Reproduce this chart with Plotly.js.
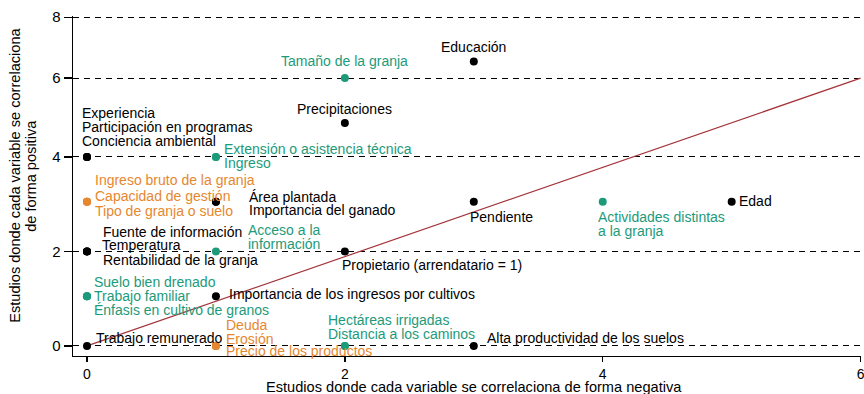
<!DOCTYPE html>
<html>
<head>
<meta charset="utf-8">
<script src="https://cdn.plot.ly/plotly-3.0.1.min.js"></script>
<style>
  html, body { margin: 0; padding: 0; background: #fff; }
  #chart { width: 864px; height: 394px; }
</style>
</head>
<body>
<div id="chart"></div>
<script>
// variables, with the number of studies where each one correlates
// negatively (x) and positively (y)
const varNames = [
  'Experiencia', 'Participación en programas', 'Conciencia ambiental',
  'Extensión o asistencia técnica', 'Ingreso',
  'Tamaño de la granja', 'Educación', 'Precipitaciones',
  'Ingreso bruto de la granja', 'Capacidad de gestión', 'Tipo de granja o suelo',
  'Área plantada', 'Importancia del ganado',
  'Pendiente', 'Actividades distintas<br>a la granja', 'Edad',
  'Fuente de información', 'Temperatura', 'Rentabilidad de la granja',
  'Acceso a la<br>información', 'Propietario (arrendatario = 1)',
  'Suelo bien drenado', 'Trabajo familiar', 'Énfasis en cultivo de granos',
  'Importancia de los ingresos por cultivos',
  'Trabajo remunerado', 'Deuda', 'Erosión', 'Precio de los productos',
  'Hectáreas irrigadas', 'Distancia a los caminos', 'Alta productividad de los suelos'
];
const negStudies = [
  0, 0, 0,
  1, 1,
  2, 3, 2,
  0, 0, 0,
  1, 1,
  3, 4, 5,
  0, 0, 0,
  1, 2,
  0, 0, 0,
  1,
  0, 1, 1, 1,
  2, 2, 3
];
// the y axis of the original is not evenly spaced, so these are in
// plot units (tick "6" sits at 5.67, tick "8" at 6.97)
const posStudies = [
  4, 4, 4,
  4, 4,
  5.67, 6.02, 4.72,
  3.05, 3.05, 3.05,
  3.05, 3.05,
  3.05, 3.05, 3.05,
  2, 2, 2,
  2, 2,
  1.05, 1.05, 1.05,
  1.05,
  0, 0, 0, 0,
  0, 0, 0
];
// 0 = black, 1 = green, 2 = orange
const varGroup = [
  0, 0, 0,
  1, 1,
  1, 0, 0,
  2, 2, 2,
  0, 0,
  0, 1, 0,
  0, 0, 0,
  1, 0,
  1, 1, 1,
  0,
  0, 2, 2, 2,
  1, 1, 0
];
const lineX = [0, 6];
const lineY = [0, 5.67];
const xTickVals = [0, 2, 4, 6];
const yTickVals = [0, 2, 4, 5.67, 6.96];
const yTickText = ['0', '2', '4', '6', '8'];
const xTitle = 'Estudios donde cada variable se correlaciona de forma negativa';
const yTitle = ['Estudios donde cada variable se correlaciona', 'de forma positiva'];

const groupColors = ['#000000', '#1d9a7a', '#e6872f'];
const FONT = 'Liberation Sans, Arial, sans-serif';

// label offsets from the point in px: [dx, dy (down), anchor]
const labelPlace = [
  [-7, -44, 'left'], [-7, -30, 'left'], [-7, -16, 'left'],
  [6, -8, 'left'], [6, 6, 'left'],
  [0, -17, 'center'], [0, -15, 'center'], [0, -14, 'center'],
  [6, -22, 'left'], [6, -6, 'left'], [6, 9, 'left'],
  [31, -5, 'left'], [31, 8, 'left'],
  [-6, 15, 'left'], [-7, 15, 'left'], [5, -1, 'left'],
  [14, -19, 'left'], [13, -6, 'left'], [14, 9, 'left'],
  [30, -21, 'left'], [-5, 14, 'left'],
  [5, -14, 'left'], [5, 0, 'left'], [5, 14, 'left'],
  [11, -2, 'left'],
  [7, -8, 'left'], [8, -21, 'left'], [8, -7, 'left'], [8, 5, 'left'],
  [-19, -26, 'left'], [-19, -12, 'left'], [11, -8, 'left']
];
const LINE_GAP = 14;

var traces = [{
  x: lineX, y: lineY,
  mode: 'lines',
  type: 'scatter',
  line: {color: '#a4363c', width: 1.2},
  hoverinfo: 'skip'
}];
for(var g=0; g<groupColors.length; g++){
  var gx = [], gy = [];
  for(var i=0; i<varNames.length; i++){
    if(varGroup[i] === g){
      gx.push(negStudies[i]);
      gy.push(posStudies[i]);
    }
  }
  traces.push({
    x: gx, y: gy,
    mode: 'markers',
    type: 'scatter',
    marker: {color: groupColors[g], size: 8}
  });
}

var annotations = [];
for(var i=0; i<varNames.length; i++){
  var lines = varNames[i].split('<br>');
  for(var j=0; j<lines.length; j++){
    annotations.push({
      x: negStudies[i], y: posStudies[i],
      xref: 'x', yref: 'y',
      text: lines[j],
      showarrow: false,
      xanchor: labelPlace[i][2],
      yanchor: 'middle',
      xshift: labelPlace[i][0],
      yshift: -(labelPlace[i][1] + j*LINE_GAP),
      font: {family: FONT, size: 14, color: groupColors[varGroup[i]]}
    });
  }
}
// axis titles as annotations to get the tight line spacing
annotations.push({
  x: 3, y: 0, xref: 'x', yref: 'paper',
  text: xTitle, showarrow: false,
  xanchor: 'center', yanchor: 'middle', yshift: -31,
  font: {family: FONT, size: 14.6, color: '#000'}
});
for(var j=0; j<yTitle.length; j++){
  annotations.push({
    x: 0, y: 0.53, xref: 'paper', yref: 'paper',
    text: yTitle[j], showarrow: false, textangle: -90,
    xanchor: 'center', yanchor: 'middle', xshift: -58 + j*16,
    font: {family: FONT, size: 14.6, color: '#000'}
  });
}

var layout = {
  width: 864, height: 394,
  margin: {l: 73, r: 3, t: 16, b: 38},
  paper_bgcolor: '#fff', plot_bgcolor: '#fff',
  showlegend: false,
  font: {family: FONT, size: 14, color: '#000'},
  xaxis: {
    range: [-0.1085, 6.003],
    tickvals: xTickVals,
    showgrid: false, zeroline: false,
    showline: true, linecolor: '#000', linewidth: 1.3,
    ticks: 'outside', ticklen: 5, tickwidth: 1.3, tickcolor: '#000',
    ticklabeloverflow: 'allow',
    tickfont: {family: FONT, size: 14, color: '#000'}
  },
  yaxis: {
    range: [-0.214, 6.985],
    tickvals: yTickVals, ticktext: yTickText,
    showgrid: true, gridcolor: '#000', gridwidth: 1, griddash: '6px,5px',
    zeroline: false,
    showline: true, linecolor: '#000', linewidth: 1.3,
    ticks: 'outside', ticklen: 8, tickwidth: 1.3, tickcolor: '#000',
    tickfont: {family: FONT, size: 15, color: '#000'}
  },
  annotations: annotations
};

Plotly.newPlot('chart', traces, layout, {displayModeBar: false, staticPlot: true});
</script>
</body>
</html>
